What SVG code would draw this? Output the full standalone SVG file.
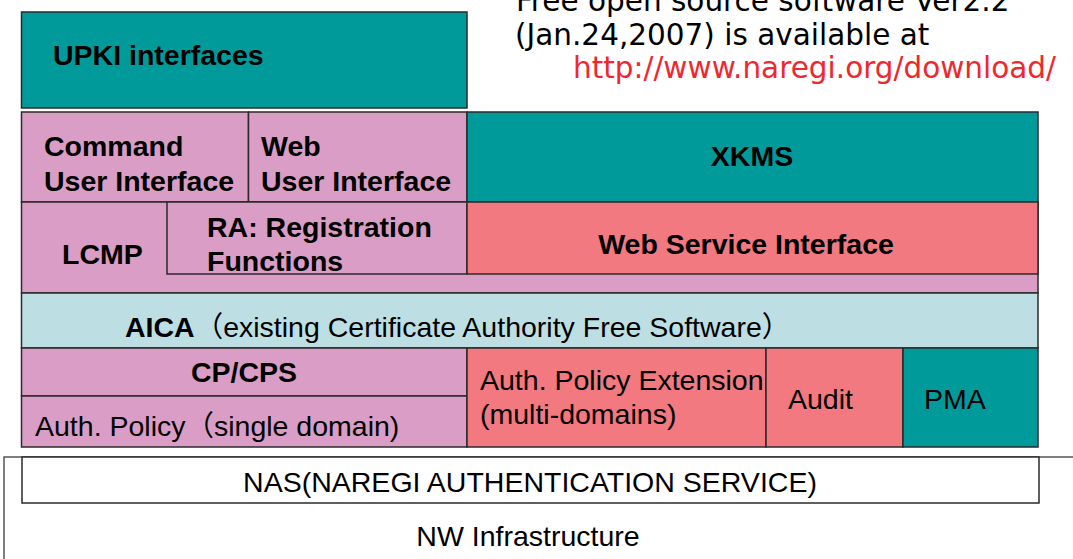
<svg xmlns="http://www.w3.org/2000/svg" width="1073" height="559" viewBox="0 0 1073 559">
<style>
.box{stroke:#2a2a2a;stroke-width:1.5}
.teal{fill:#009a9a}
.pink{fill:#da9ec6}
.salmon{fill:#f27980}
.lblue{fill:#bddfe3}
.white{fill:#ffffff}
.t{font-family:"Liberation Sans",Arial,"Noto Sans CJK JP",sans-serif;font-size:28.5px;fill:#000}
.b{font-weight:bold}
.m{text-anchor:middle}
.note{font-family:"DejaVu Sans",Verdana,sans-serif;font-size:29.5px;fill:#000}
.url{fill:#f0282d}
</style>
<rect width="1073" height="559" fill="#ffffff"/>
<g id="note">
<text class="note" x="516" y="11">Free open source software Ver2.2</text>
<text class="note" x="515" y="45">(Jan.24,2007) is available at</text>
<text class="note url" x="573" y="78">http://www.naregi.org/download/</text>
</g>
<g id="upki">
<rect class="box teal" x="21.5" y="12" width="445.5" height="96"/>
<text class="t b" x="53" y="65">UPKI interfaces</text>
</g>
<g id="command-ui">
<rect class="box pink" x="21.5" y="112" width="227" height="90"/>
<text class="t b" x="44" y="156">Command</text>
<text class="t b" x="44" y="191">User Interface</text>
</g>
<g id="web-ui">
<rect class="box pink" x="248.5" y="112" width="218.5" height="90"/>
<text class="t b" x="261" y="156">Web</text>
<text class="t b" x="261" y="191">User Interface</text>
</g>
<g id="xkms">
<rect class="box teal" x="467" y="112" width="571" height="90"/>
<text class="t b m" x="752" y="166">XKMS</text>
</g>
<g id="lcmp">
<rect class="box pink" x="21.5" y="202" width="1016.5" height="91"/>
<text class="t b" x="62" y="264">LCMP</text>
</g>
<g id="ra">
<rect class="box pink" x="167" y="202" width="300" height="72"/>
<text class="t b" x="207" y="237">RA: Registration</text>
<text class="t b" x="207" y="271">Functions</text>
</g>
<g id="web-service-interface">
<rect class="box salmon" x="467" y="202" width="571" height="72"/>
<text class="t b m" x="746" y="254">Web Service Interface</text>
</g>
<g id="aica">
<rect class="box lblue" x="21.5" y="293" width="1016.5" height="55"/>
<text class="t" x="125" y="337"><tspan class="b">AICA</tspan>（existing Certificate Authority Free Software）</text>
</g>
<g id="cp-cps">
<rect class="box pink" x="21.5" y="348" width="445.5" height="48"/>
<text class="t b m" x="244" y="382">CP/CPS</text>
</g>
<g id="auth-policy">
<rect class="box pink" x="21.5" y="396" width="445.5" height="51"/>
<text class="t" x="35" y="436">Auth. Policy（single domain)</text>
</g>
<g id="auth-policy-extension">
<rect class="box salmon" x="467" y="348" width="299" height="99"/>
<text class="t" x="480" y="390">Auth. Policy Extension</text>
<text class="t" x="480" y="424">(multi-domains)</text>
</g>
<g id="audit">
<rect class="box salmon" x="766" y="348" width="137" height="99"/>
<text class="t" x="788" y="409">Audit</text>
</g>
<g id="pma">
<rect class="box teal" x="903" y="348" width="135" height="99"/>
<text class="t" x="924" y="409">PMA</text>
</g>
<g id="nw-infrastructure">
<rect x="4" y="457" width="1100" height="200" fill="#ffffff" stroke="#555555" stroke-width="1.5"/>
<text class="t m" x="528" y="546">NW Infrastructure</text>
</g>
<g id="nas">
<rect class="box white" x="22" y="457" width="1017" height="46"/>
<text class="t m" x="530" y="492">NAS(NAREGI AUTHENTICATION SERVICE)</text>
</g>
<g id="connectors"/>
</svg>
